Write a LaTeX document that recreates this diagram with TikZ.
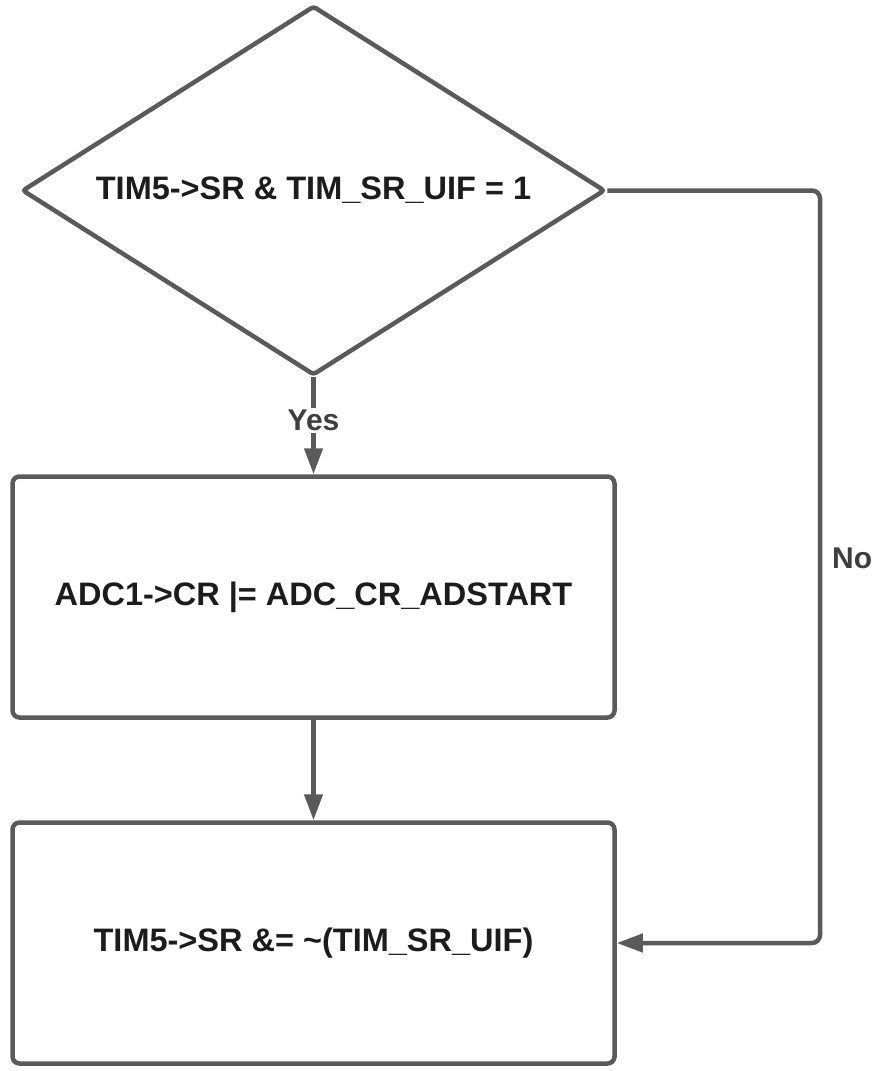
\documentclass[tikz,border=0pt]{standalone}
\usepackage{fontspec}
\setmainfont{Liberation Sans}
\usepackage{tikz}
\usetikzlibrary{shapes.geometric,arrows.meta}
\definecolor{edgegray}{HTML}{5A5A5A}
\definecolor{inkgray}{HTML}{1C1C1C}
\def\boxfont{\fontsize{32.5}{38}\selectfont\bfseries}
\def\labfont{\fontsize{30}{36}\selectfont\bfseries}

\begin{document}
\begin{tikzpicture}[x=1pt, y=-1pt,
	flow/.style={draw=edgegray, line width=4.5pt, text=inkgray, font=\boxfont, inner sep=0pt},
	stepbox/.style={flow, rectangle, rounded corners=7pt, minimum width=602pt, minimum height=241pt},
	test/.style={flow, diamond, rounded corners=3pt, aspect=1.27, minimum width=583pt, minimum height=362pt},
	link/.style={draw=edgegray, line width=4.5pt, -{Triangle[length=26pt, width=18pt]}},
	tag/.style={text=inkgray!85, font=\labfont, inner sep=2pt}]
	\useasboundingbox (0,0) rectangle (876,1071);
	\node[test] (check) at (313.5,190.5) {\raisebox{4pt}{TIM5->SR \& TIM\_SR\_UIF = 1}};
	\node[stepbox] (start) at (313.5,597) {ADC1->CR |= ADC\_CR\_ADSTART};
	\node[stepbox] (clear) at (313.5,943) {TIM5->SR \&= \textasciitilde(TIM\_SR\_UIF)};
	\coordinate (turn) at (820,943);
	\draw[link] (check.south) -- node[tag, fill=white, pos=0.44] (yes) {Yes} (start.north);
	\draw[link] (start.south) -- (clear.north);
	\draw[link, rounded corners=8pt] (check.east) -| (turn) -- (clear.east);
	\node[tag, anchor=west] (no) at (830,558) {No};
\end{tikzpicture}
\end{document}
